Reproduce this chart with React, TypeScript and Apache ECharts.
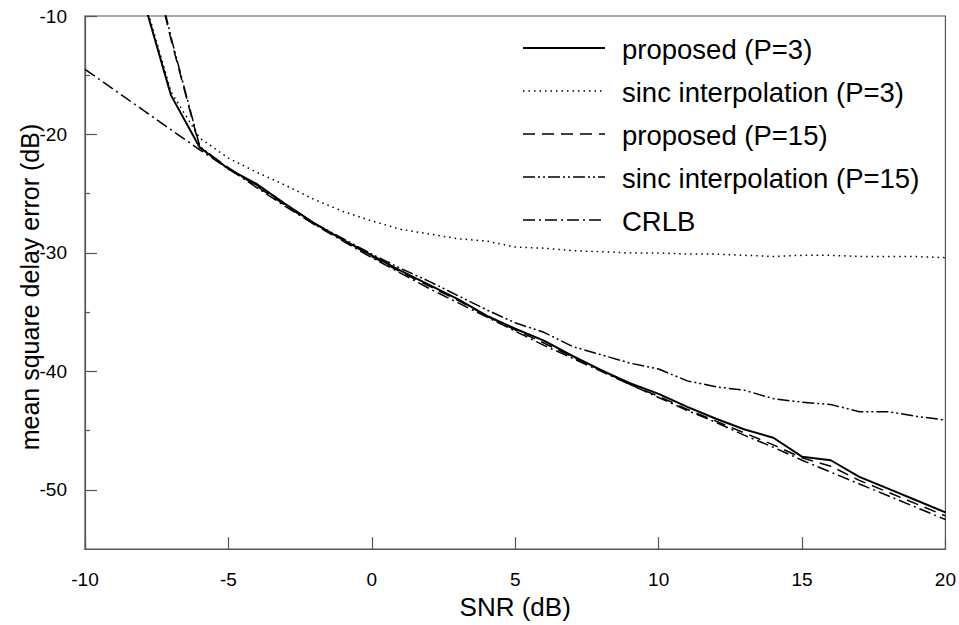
import React, { useEffect, useRef } from 'react';
import * as echarts from 'echarts';

const snr = [-10, -9, -8, -7, -6, -5, -4, -3, -2, -1, 0, 1, 2, 3, 4, 5, 6, 7, 8, 9, 10, 11, 12, 13, 14, 15, 16, 17, 18, 19, 20];

const proposedP3 = [null, null, -8.3, -16.7, -21.1, -22.9, -24.2, -25.9, -27.5, -28.9, -30.2, -31.5, -32.7, -33.9, -35.3, -36.4, -37.4, -38.7, -39.9, -41.0, -41.9, -43.0, -44.0, -44.9, -45.6, -47.2, -47.5, -48.9, -49.9, -50.9, -51.9];
const sincP3 = [null, null, -8.0, -16.4, -20.3, -22.0, -23.2, -24.3, -25.5, -26.5, -27.3, -28.0, -28.4, -28.8, -29.0, -29.5, -29.6, -29.8, -29.9, -30.0, -30.0, -30.1, -30.1, -30.2, -30.3, -30.2, -30.2, -30.3, -30.3, -30.3, -30.4];
const proposedP15 = [null, null, -2.0, -12.0, -21.1, -22.8, -24.4, -26.0, -27.6, -28.9, -30.3, -31.6, -32.8, -34.0, -35.3, -36.5, -37.6, -38.8, -39.9, -41.1, -42.1, -43.2, -44.2, -45.2, -46.2, -47.3, -48.0, -49.2, -50.2, -51.2, -52.2];
const sincP15 = [null, null, -1.5, -11.8, -21.0, -22.9, -24.3, -25.9, -27.5, -28.8, -30.1, -31.3, -32.4, -33.6, -34.8, -35.9, -36.7, -37.9, -38.6, -39.3, -39.8, -40.8, -41.3, -41.6, -42.3, -42.6, -42.8, -43.4, -43.4, -43.8, -44.1];
const crlb = [-14.5, -16.2, -17.9, -19.6, -21.3, -22.9, -24.5, -26.1, -27.6, -29.0, -30.4, -31.7, -33.0, -34.2, -35.4, -36.6, -37.8, -38.9, -40.0, -41.1, -42.2, -43.3, -44.3, -45.4, -46.4, -47.5, -48.5, -49.5, -50.5, -51.5, -52.5];

const seriesNames = ['proposed (P=3)', 'sinc interpolation (P=3)', 'proposed (P=15)', 'sinc interpolation (P=15)', 'CRLB'];
const yMajorTicks = [-50, -40, -30, -20, -10];
const yMinorTicks = [-45, -35, -25, -15];
const xTitle = 'SNR (dB)';
const yTitle = 'mean square delay error (dB)';

const FONT = '"Liberation Sans", Arial, Helvetica, sans-serif';
const AXIS_COLOR = '#555';

const lineWidths = [2, 1.5, 1.5, 1.5, 1.5];
const lineDashes: (number[] | null)[] = [null, [1.5, 4], [12, 7], [12, 3, 2, 3, 2, 3], [12, 4, 2, 4]];

export default function App() {
  const ref = useRef<HTMLDivElement>(null);
  useEffect(() => {
    const chart = echarts.init(ref.current as HTMLDivElement, null, { renderer: 'svg' });
    const pairs = (arr: (number | null)[]) => snr.map((x, i) => [x, arr[i]]);
    const datasets = [proposedP3, sincP3, proposedP15, sincP15, crlb];

    const legendLeft = 523;
    const legendLineLen = 82;
    const legendTextX = 622;
    const legendTop = 48;
    const legendStep = 43;
    const legendGraphics: any[] = [];
    seriesNames.forEach((name, i) => {
      const y = legendTop + i * legendStep;
      legendGraphics.push({
        type: 'line',
        shape: { x1: legendLeft, y1: y, x2: legendLeft + legendLineLen, y2: y },
        style: { stroke: '#000', lineWidth: lineWidths[i], lineDash: lineDashes[i] || undefined },
        silent: true,
      });
      legendGraphics.push({
        type: 'text',
        x: legendTextX,
        y: y + 1,
        style: { text: name, fontFamily: FONT, fontSize: 27.5, fill: '#000', align: 'left', verticalAlign: 'middle' },
        silent: true,
      });
    });

    chart.setOption({
      animation: false,
      backgroundColor: '#fff',
      textStyle: { fontFamily: FONT },
      grid: { left: 85, right: 13, top: 16, bottom: 72, show: true, borderColor: AXIS_COLOR, borderWidth: 1.2, backgroundColor: 'transparent' },
      xAxis: {
        type: 'value',
        min: -10,
        max: 20,
        interval: 5,
        name: xTitle,
        nameLocation: 'middle',
        nameGap: 40,
        nameTextStyle: { fontFamily: FONT, fontSize: 26, color: '#000' },
        axisLine: { show: true, onZero: false, lineStyle: { color: AXIS_COLOR, width: 1.2 } },
        axisTick: { show: true, inside: true, length: 12, lineStyle: { color: AXIS_COLOR, width: 1.2 } },
        axisLabel: { fontFamily: FONT, fontSize: 19, color: '#000', margin: 21 },
        splitLine: { show: false },
      },
      yAxis: [
        {
          type: 'value',
          min: -55,
          max: -10,
          axisLine: { show: true, onZero: false, lineStyle: { color: AXIS_COLOR, width: 1.2 } },
          axisTick: { show: true, inside: true, length: 12, customValues: yMajorTicks, lineStyle: { color: AXIS_COLOR, width: 1.2 } },
          axisLabel: { fontFamily: FONT, fontSize: 19, color: '#000', margin: 18, customValues: yMajorTicks },
          splitLine: { show: false },
        },
        {
          type: 'value',
          min: -55,
          max: -10,
          position: 'left',
          offset: 0,
          axisLine: { show: false, onZero: false },
          axisTick: { show: true, inside: true, length: 5, customValues: yMinorTicks, lineStyle: { color: AXIS_COLOR, width: 1.2 } },
          axisLabel: { show: false },
          splitLine: { show: false },
        },
      ],
      graphic: [
        {
          type: 'text',
          x: 30,
          y: 287,
          rotation: Math.PI / 2,
          style: { text: yTitle, fontFamily: FONT, fontSize: 25, fill: '#000', align: 'center', verticalAlign: 'middle' },
          silent: true,
        },
        ...legendGraphics,
      ],
      series: datasets.map((d, i) => ({
        name: seriesNames[i],
        type: 'line',
        yAxisIndex: 0,
        data: pairs(d),
        showSymbol: false,
        symbol: 'none',
        connectNulls: false,
        clip: true,
        color: '#000',
        lineStyle: { color: '#000', width: lineWidths[i], type: lineDashes[i] || 'solid' },
        z: 5 - i,
      })),
    });
    return () => chart.dispose();
  }, []);
  return <div ref={ref} style={{ position: 'fixed', left: 0, top: 0, width: 959, height: 625 }} />;
}
